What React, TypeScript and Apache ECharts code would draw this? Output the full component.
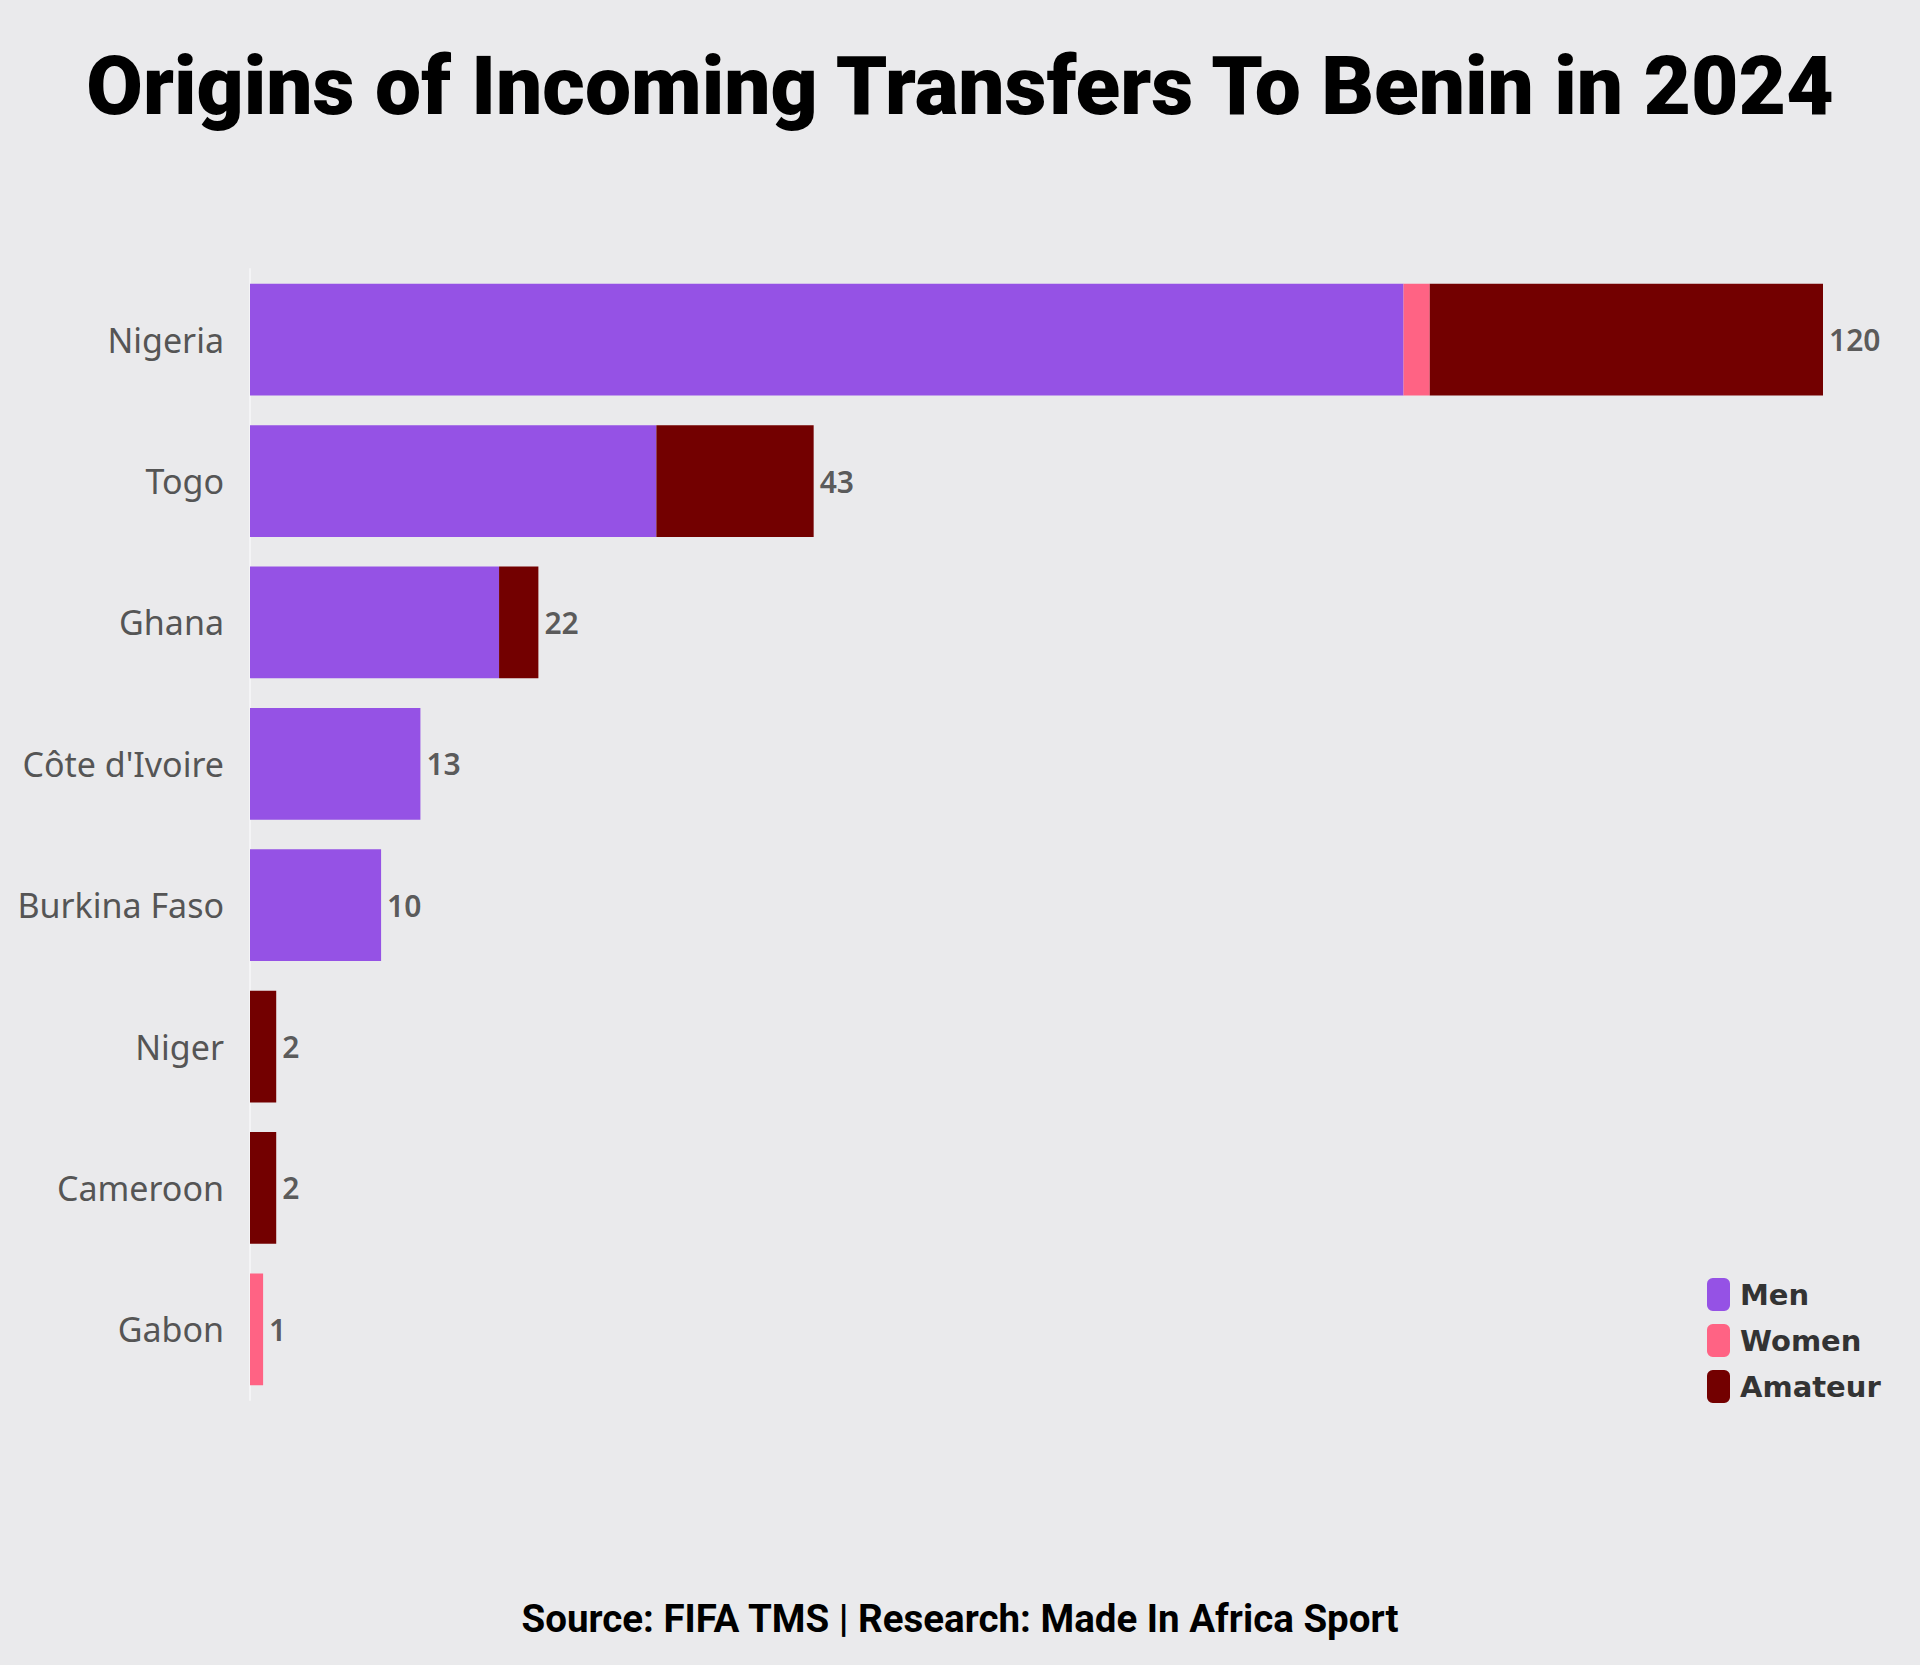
import React, { useEffect, useRef } from "react";
import * as echarts from "echarts";

const categories = ["Nigeria", "Togo", "Ghana", "Côte d'Ivoire", "Burkina Faso", "Niger", "Cameroon", "Gabon"];
const menValues = [88, 31, 19, 13, 10, 0, 0, 0];
const womenValues = [2, 0, 0, 0, 0, 0, 0, 1];
const amateurValues = [30, 12, 3, 0, 0, 2, 2, 0];
const seriesNames = ["Men", "Women", "Amateur"];
const seriesColors = ["#9552E5", "#FF6384", "#730000"];
const titleText = "Origins of Incoming Transfers To Benin in 2024";
const footerText = "Source: FIFA TMS | Research: Made In Africa Sport";

export default function App() {
  const ref = useRef<HTMLDivElement>(null);
  useEffect(() => {
    document.body.style.margin = "0";
    document.body.style.background = "#EAEAEC";
    const chart = echarts.init(ref.current!, null, { renderer: "svg" });
    const totals = categories.map((_, i) => menValues[i] + womenValues[i] + amateurValues[i]);
    const valueSets = [menValues, womenValues, amateurValues];
    chart.setOption({
      animation: false,
      backgroundColor: "#EAEAEC",
      title: [
        {
          text: titleText,
          left: "center",
          top: 40,
          textStyle: { fontFamily: "Roboto", fontWeight: 900, fontSize: 82, color: "#000" },
        },
        {
          text: footerText,
          left: "center",
          top: 1594,
          textStyle: { fontFamily: "Roboto", fontWeight: "bold", fontSize: 38.5, color: "#000" },
        },
      ],
      legend: {
        data: seriesNames,
        orient: "vertical",
        left: 1702,
        top: 1273,
        itemWidth: 23,
        itemHeight: 33,
        itemGap: 13,
        icon: "roundRect",
        textStyle: {
          fontFamily: "DejaVu Sans",
          fontWeight: "bold",
          fontSize: 29,
          color: "#333",
          padding: [0, 0, 0, 5],
        },
      },
      grid: { left: 250, right: 97, top: 269, bottom: 1665 - 1400, containLabel: false },
      xAxis: {
        type: "value",
        min: 0,
        max: 120,
        show: false,
      },
      yAxis: {
        type: "category",
        data: categories,
        inverse: true,
        axisLine: { show: true, lineStyle: { color: "#F4F4F6", width: 2 } },
        axisTick: { show: false },
        axisLabel: { fontFamily: "Noto Sans", fontSize: 34, color: "#555", margin: 26 },
      },
      series: [
        ...seriesNames.map((name, si) => ({
          name,
          type: "bar",
          stack: "total",
          barCategoryGap: "21%",
          itemStyle: { color: seriesColors[si] },
          data: valueSets[si],
        })),
        {
          type: "scatter",
          symbolSize: 0,
          silent: true,
          data: totals.map((t, i) => [t, categories[i]]),
          label: {
            show: true,
            position: "right",
            distance: 6,
            formatter: (p: any) => String(p.value[0]),
            fontFamily: "Noto Sans",
            fontWeight: 600,
            fontSize: 30,
            color: "#333",
          },
        },
      ],
    });
    return () => chart.dispose();
  }, []);
  return <div ref={ref} style={{ width: 1920, height: 1665 }} />;
}
